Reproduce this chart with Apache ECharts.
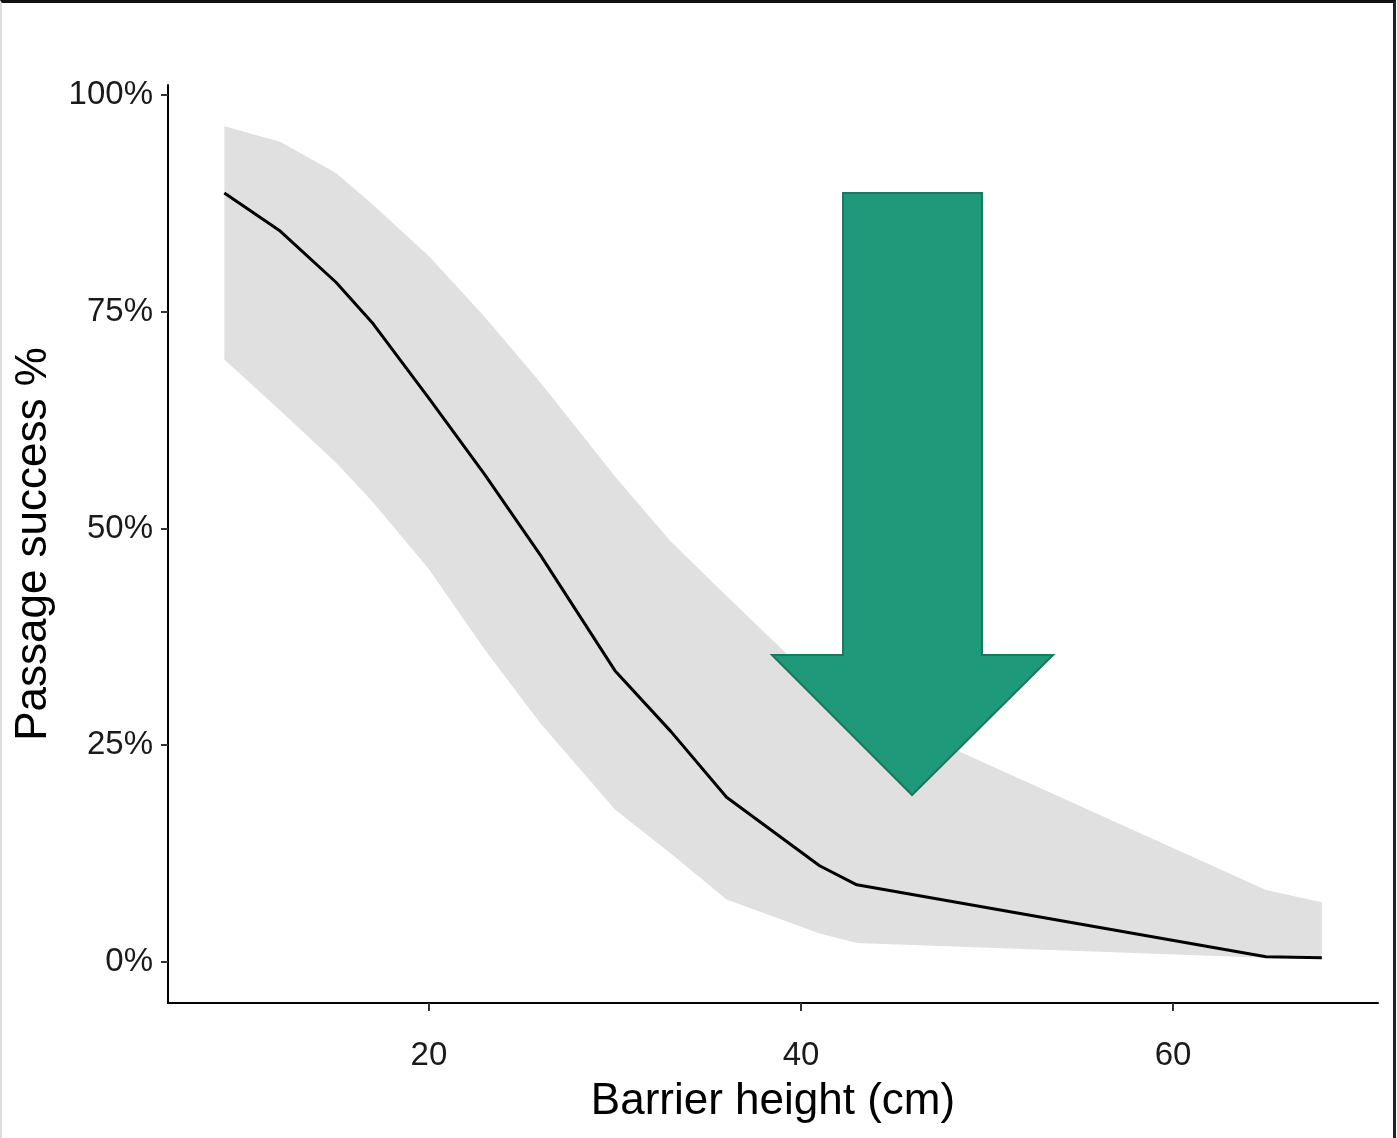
<!DOCTYPE html>
<html><head><meta charset="utf-8">
<script src="https://cdn.jsdelivr.net/npm/echarts@6/dist/echarts.min.js"></script>
<style>
html,body{margin:0;padding:0;background:#fff;}
#c{width:1397px;height:1138px;}
#frame{position:absolute;left:0;top:0;width:1396px;height:1138px;box-sizing:border-box;border-top:3px solid #111;border-right:3px solid #222;border-left:2px solid #ddd;pointer-events:none;}
</style>
</head><body><div id="c"></div><div id="frame"></div>
<script>
// Barrier height (cm)
const heights = [9, 12, 15, 17, 20, 23, 26, 30, 33, 36, 41, 43, 65, 68];
// Passage success % (fitted) and confidence band
const fitted  = [88.7, 84.3, 78.4, 73.6, 65.0, 56.2, 46.9, 33.6, 26.6, 19.0, 11.1, 8.9, 0.6, 0.5];
const upper   = [96.4, 94.6, 91.0, 87.3, 81.4, 74.4, 66.8, 56.0, 48.5, 42.2, 31.9, 29.6, 8.3, 6.9];
const lower   = [69.5, 63.6, 57.6, 53.0, 45.3, 36.0, 27.5, 17.6, 12.5, 7.2, 3.3, 2.2, 0.5, 0.4];
const yTicks = [0, 25, 50, 75, 100];
const xTicks = [20, 40, 60];
// Down arrow annotation outline, in data units (x cm, y %)
const arrowShape = [[42.26, 88.7], [49.73, 88.7], [49.73, 35.4], [53.55, 35.4], [45.97, 19.26], [38.44, 35.4], [42.26, 35.4]];

const FONT = "'Liberation Sans', Arial, Helvetica, sans-serif";
const chart = echarts.init(document.getElementById('c'), null, {renderer: 'canvas'});

const bandData = heights.map((h, i) => [h, lower[i], upper[i]]);
const fitData = heights.map((h, i) => [h, fitted[i]]);

chart.setOption({
  animation: false,
  backgroundColor: '#fff',
  grid: {left: 168, right: 19, top: 85, bottom: 135, containLabel: false},
  xAxis: {
    type: 'value', min: 5.97, max: 71.02,
    name: 'Barrier height (cm)', nameLocation: 'middle', nameGap: 77,
    nameTextStyle: {fontFamily: FONT, fontSize: 44, color: '#000'},
    axisLine: {show: true, onZero: false, lineStyle: {color: '#000', width: 2}},
    axisTick: {show: true, length: 8, customValues: xTicks, lineStyle: {color: '#333', width: 2}},
    axisLabel: {customValues: xTicks, margin: 36, fontFamily: FONT, fontSize: 33, color: '#1a1a1a'},
    splitLine: {show: false}
  },
  yAxis: {
    type: 'value', min: -4.73, max: 101.15,
    name: 'Passage success %', nameLocation: 'middle', nameGap: 112,
    nameTextStyle: {fontFamily: FONT, fontSize: 44, color: '#000'},
    axisLine: {show: true, onZero: false, lineStyle: {color: '#000', width: 2}},
    axisTick: {show: true, length: 7, customValues: yTicks, lineStyle: {color: '#333', width: 2}},
    axisLabel: {customValues: yTicks, margin: 15, fontFamily: FONT, fontSize: 33, color: '#1a1a1a',
      formatter: v => v + '%'},
    splitLine: {show: false}
  },
  series: [
    {type: 'custom', data: bandData, silent: true, z: 1,
      encode: {x: 0, y: [1, 2]},
      renderItem: function (params, api) {
        if (params.dataIndex !== 0) return null;
        const top = bandData.map(d => api.coord([d[0], d[2]]));
        const bot = bandData.slice().reverse().map(d => api.coord([d[0], d[1]]));
        return {type: 'polygon', shape: {points: top.concat(bot)},
          style: {fill: '#e0e0e0', stroke: null}};
      }},
    {type: 'line', data: fitData, symbol: 'none', silent: true,
      lineStyle: {color: '#000', width: 3}, z: 3},
    {type: 'custom', data: [[46, 50]], silent: true, z: 5, clip: false,
      renderItem: function (params, api) {
        return {
          type: 'polygon',
          shape: {points: arrowShape.map(p => api.coord(p))},
          style: {fill: '#1e9a7a', stroke: '#17795e', lineWidth: 2}
        };
      }}
  ]
});
</script>
</body></html>
